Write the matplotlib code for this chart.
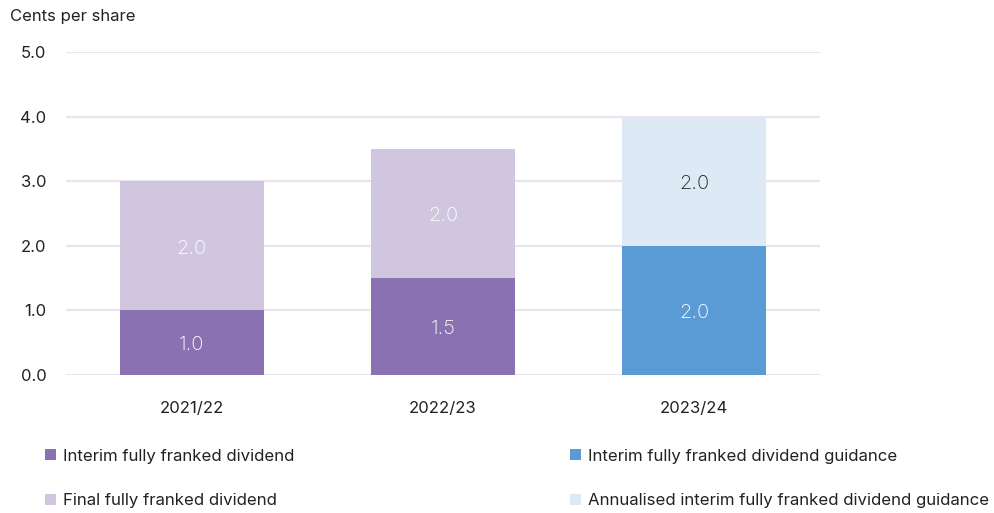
"""
Dividend per share chart: interim / final dividends and 2023/24 guidance.
Saves out.png (994x513).
"""
import matplotlib
matplotlib.use("Agg")
import matplotlib.pyplot as plt
from matplotlib.patches import Patch

# ── data ─────────────────────────────────────────────────────
YEARS       = ["2021/22", "2022/23", "2023/24"]
INTERIM     = [1.0, 1.5, 0.0]
FINAL       = [2.0, 2.0, 0.0]
GUIDANCE    = [0.0, 0.0, 2.0]
ANNUALISED  = [0.0, 0.0, 2.0]
Y_TICKS     = [0.0, 1.0, 2.0, 3.0, 4.0, 5.0]
LEGEND_LABELS = [
    "Interim fully franked dividend",
    "Final fully franked dividend",
    "Interim fully franked dividend guidance",
    "Annualised interim fully franked dividend guidance",
]

# ── style ────────────────────────────────────────────────────
C_INTERIM    = "#8a72b2"
C_FINAL      = "#d0c6e0"
C_GUIDANCE   = "#5b9bd5"
C_ANNUAL     = "#dde9f5"
C_GRID       = "#e8e4f1"
C_TEXT       = "#222222"
FONT         = ["Inter", "DejaVu Sans"]

plt.rcParams["font.family"] = FONT

W, H = 994, 513
fig = plt.figure(figsize=(W / 100, H / 100), dpi=100)
ax = fig.add_axes([66 / W, (H - 375) / H, (820 - 66) / W, (375 - 52) / H])

x = list(range(len(YEARS)))
bw = 0.573

bars_int = ax.bar(x, INTERIM, width=bw, color=C_INTERIM, zorder=3)
bars_fin = ax.bar(x, FINAL, width=bw, bottom=INTERIM, color=C_FINAL, zorder=3)
bars_gui = ax.bar(x, GUIDANCE, width=bw, color=C_GUIDANCE, zorder=3)
bars_ann = ax.bar(x, ANNUALISED, width=bw, bottom=GUIDANCE, color=C_ANNUAL, zorder=3)


def _label(bars, values, bottoms, color):
    for b, v, base in zip(bars, values, bottoms):
        if v <= 0:
            continue
        ax.annotate(f"{v:.1f}", (b.get_x() + b.get_width() / 2, base + v / 2),
                    xytext=(0, -2), textcoords="offset points",
                    ha="center", va="center", fontsize=14.5, fontweight="light",
                    color=color, zorder=4)


_label(bars_int, INTERIM, [0] * 3, "white")
_label(bars_fin, FINAL, INTERIM, "white")
_label(bars_gui, GUIDANCE, [0] * 3, "white")
_label(bars_ann, ANNUALISED, GUIDANCE, C_TEXT)

ax.set_xlim(-0.5, 2.5)
ax.set_ylim(0, 5)
ax.set_yticks(Y_TICKS)
ax.set_yticklabels([f"{t:.1f}" for t in Y_TICKS])
ax.set_xticks(x)
ax.set_xticklabels(YEARS)
ax.tick_params(axis="y", length=0, pad=14, labelsize=12, colors=C_TEXT)
ax.tick_params(axis="x", length=0, pad=18.5, labelsize=12, colors=C_TEXT)
for s in ax.spines.values():
    s.set_visible(False)
ax.grid(axis="y", color=C_GRID, linewidth=1.6, zorder=0)

fig.text(10 / W, 1 - 16 / H, "Cents per share", ha="left", va="center",
         fontsize=12, color=C_TEXT)

# ── legend: one small legend per entry, placed in a 2x2 grid ──
colors = [C_INTERIM, C_FINAL, C_GUIDANCE, C_ANNUAL]
spots = [(45, 456), (45, 501), (570, 456), (570, 501)]
for lab, col, (px, py) in zip(LEGEND_LABELS, colors, spots):
    fig.legend(handles=[Patch(facecolor=col, edgecolor="none", label=lab)],
               loc="center left", bbox_to_anchor=(px / W, 1 - py / H),
               frameon=False, fontsize=12.1, handlelength=0.66, handleheight=0.66,
               handletextpad=0.4, borderpad=0, borderaxespad=0,
               labelcolor=C_TEXT)

fig.savefig("out.png", dpi=100)
